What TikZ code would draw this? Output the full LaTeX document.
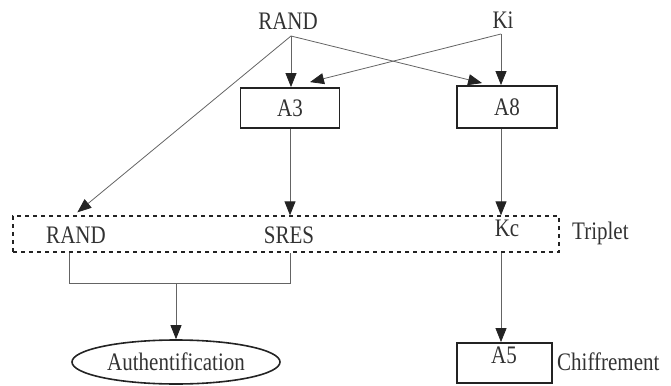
\documentclass[tikz,border=0pt]{standalone}
\usepackage{fontspec}
\usepackage{graphicx}
\setmainfont{Liberation Serif}
\usetikzlibrary{arrows.meta,shapes.geometric,calc}
\definecolor{ln}{RGB}{100,100,100}
\definecolor{dk}{RGB}{35,35,35}
\definecolor{tx}{RGB}{50,50,50}
\newcommand{\vst}[1]{\scalebox{1}[1.2]{#1}}
\begin{document}
\begin{tikzpicture}[x=1pt,y=-1pt,
  lbl/.style={font=\fontsize{21}{24}\selectfont, text=tx, inner sep=0pt},
  algbox/.style={draw=dk, line width=1.8pt, minimum width=99pt, minimum height=40pt, inner sep=0pt, font=\fontsize{21}{24}\selectfont, text=tx},
  conn/.style={draw=ln, line width=0.8pt},
  arr/.style={conn, -{Triangle[length=14pt,width=11pt,color=dk]}},
]
\useasboundingbox (0,0) rectangle (671,385);
\node[lbl] (randtop) at (288,21) {\vst{RAND}};
\node[lbl] (ki) at (503,20) {\vst{Ki}};
\coordinate (rj) at (291,36);
\coordinate (kj) at (501,34);
\node[algbox] (a3) at (290,108) {\vst{A3}};
\node[algbox, minimum width=100pt, minimum height=42pt] (a8) at (507,107) {\vst{A8}};
\node[draw=dk, line width=1.3pt, dash pattern=on 4pt off 4pt, minimum width=546pt, minimum height=36pt, inner sep=0pt] (trip) at (286,234) {};
\node[lbl] (rand2) at (76,235) {\vst{RAND}};
\node[lbl] (sres) at (289,235) {\vst{SRES}};
\node[lbl] (kc) at (507,228) {\vst{Kc}};
\node[lbl, anchor=west] (tripl) at (572,233) {\vst{Triplet}};
\node[draw=dk, line width=1.6pt, ellipse, minimum width=208pt, minimum height=44pt, inner sep=0pt, font=\fontsize{21}{24}\selectfont, text=tx] (auth) at (176,362) {\vst{Authentification}};
\node[algbox, minimum width=95pt, minimum height=40pt] (a5) at (504.5,363) {};
\node[lbl] (a5t) at (504,355) {\vst{A5}};
\node[lbl, anchor=west] (chif) at (557,362) {\vst{Chiffrement}};

\draw[arr] (rj) -- (rj |- a3.north);
\draw[arr] (rj) -- ($(a8.north west)+(26,-2)$);
\draw[arr] (rj) -- ($(trip.north west)+(65,-3)$);
\draw[arr] (kj) -- (kj |- a8.north);
\draw[arr] (kj) -- ($(a3.north)+(20,-5)$);
\draw[arr] (a3.south) -- (a3.south |- trip.north);
\draw[arr] (kj |- a8.south) -- (kj |- trip.north);
\draw[arr] (kj |- trip.south) -- (kj |- a5.north);
\coordinate (bl) at (69,283);
\draw[conn] (bl |- trip.south) -- (bl) -| (a3.south |- trip.south);
\draw[arr] (auth.north |- bl) -- (auth.north);
\end{tikzpicture}
\end{document}
